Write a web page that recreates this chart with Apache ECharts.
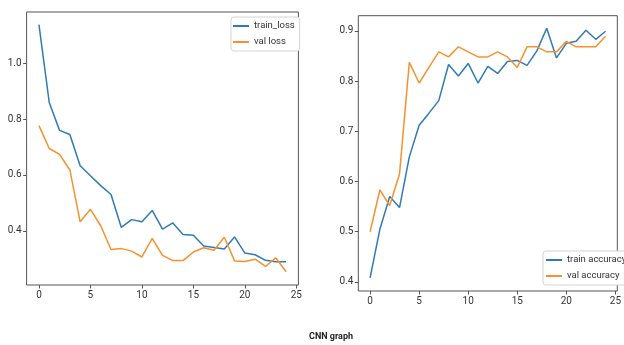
<!DOCTYPE html>
<html>
<head>
<meta charset="utf-8">
<script src="https://cdn.jsdelivr.net/npm/echarts@6/dist/echarts.min.js"></script>
<style>
  html, body { margin: 0; padding: 0; background: #fff; }
  #chart { width: 624px; height: 345px; }
</style>
</head>
<body>
<div id="chart"></div>
<script>
// epochs 0..24
const epochs = Array.from({ length: 25 }, (_, i) => i);

const trainLoss = [1.139, 0.86, 0.76, 0.745, 0.633, 0.597, 0.562, 0.53, 0.412, 0.44,
  0.432, 0.473, 0.406, 0.428, 0.387, 0.384, 0.345, 0.34, 0.335, 0.378,
  0.32, 0.314, 0.294, 0.289, 0.289];
const valLoss = [0.777, 0.695, 0.674, 0.618, 0.432, 0.477, 0.418, 0.333, 0.336, 0.327,
  0.306, 0.373, 0.312, 0.293, 0.293, 0.324, 0.339, 0.33, 0.377, 0.292,
  0.29, 0.298, 0.272, 0.303, 0.253];

const trainAcc = [0.408, 0.505, 0.57, 0.548, 0.649, 0.712, 0.736, 0.761, 0.833, 0.81,
  0.835, 0.796, 0.829, 0.815, 0.839, 0.841, 0.831, 0.86, 0.905, 0.846,
  0.875, 0.879, 0.901, 0.883, 0.899];
const valAcc = [0.50, 0.583, 0.552, 0.615, 0.837, 0.796, 0.827, 0.858, 0.848, 0.868,
  0.858, 0.848, 0.848, 0.858, 0.848, 0.827, 0.868, 0.868, 0.858, 0.858,
  0.879, 0.868, 0.868, 0.868, 0.889];

const xTicks = [0, 5, 10, 15, 20, 25];
const lossTicks = [0.4, 0.6, 0.8, 1.0];
const accTicks = [0.4, 0.5, 0.6, 0.7, 0.8, 0.9];

const BLUE = '#2f7bb6';
const ORANGE = '#f5922f';
const FONT = 'Roboto';
const AXIS_COLOR = '#555';

const pairs = (ys) => epochs.map((x, i) => [x, ys[i]]);

function xAxisFor(gridIndex) {
  return {
    type: 'value', gridIndex, min: -1.2, max: 25.2,
    splitLine: { show: false },
    axisLine: { show: false, onZero: false },
    axisTick: { show: true, length: 3.5, customValues: xTicks, lineStyle: { color: AXIS_COLOR } },
    axisLabel: { customValues: xTicks, color: '#333', fontSize: 10, fontFamily: FONT, margin: 5 },
  };
}

function yAxisFor(gridIndex, min, max, ticks) {
  return {
    type: 'value', gridIndex, min, max,
    splitLine: { show: false },
    axisLine: { show: false, onZero: false },
    axisTick: { show: true, length: 3.5, customValues: ticks, lineStyle: { color: AXIS_COLOR } },
    axisLabel: {
      customValues: ticks, color: '#333', fontSize: 10, fontFamily: FONT, margin: 5,
      formatter: (v) => v.toFixed(1),
    },
  };
}

function lineSeries(name, data, color, idx) {
  return {
    name, type: 'line', data, xAxisIndex: idx, yAxisIndex: idx,
    symbol: 'none', lineStyle: { width: 1.5, color }, itemStyle: { color },
    animation: false,
  };
}

const legendBase = {
  orient: 'vertical',
  backgroundColor: '#fff',
  borderColor: '#d4d4d4',
  borderWidth: 1,
  borderRadius: 3,
  icon: 'rect',
  itemWidth: 16,
  itemHeight: 2,
  itemGap: 6,
  textStyle: { fontSize: 9.5, fontFamily: FONT, color: '#333' },
};

const chart = echarts.init(document.getElementById('chart'), null, { renderer: 'canvas' });
chart.setOption({
  backgroundColor: '#fff',
  animation: false,
  title: {
    text: 'CNN graph', left: 304, top: 327,
    textStyle: { fontSize: 9, fontWeight: 'bold', fontFamily: FONT, color: '#222' },
  },
  grid: [
    { left: 26.6, top: 12, width: 271.8, height: 273, show: true, borderColor: AXIS_COLOR, borderWidth: 1 },
    { left: 358.3, top: 15.7, width: 272.4, height: 275.3, show: true, borderColor: AXIS_COLOR, borderWidth: 1 },
  ],
  xAxis: [xAxisFor(0), xAxisFor(1)],
  yAxis: [yAxisFor(0, 0.2055, 1.1845, lossTicks), yAxisFor(1, 0.382, 0.930, accTicks)],
  legend: [
    Object.assign({}, legendBase, { data: ['train_loss', 'val loss'], left: 231, top: 17, padding: [4, 5, 4, 2] }),
    Object.assign({}, legendBase, { data: ['train accuracy', 'val accuracy'], left: 543, top: 251, padding: [4, 6, 4, 3] }),
  ],
  series: [
    lineSeries('train_loss', pairs(trainLoss), BLUE, 0),
    lineSeries('val loss', pairs(valLoss), ORANGE, 0),
    lineSeries('train accuracy', pairs(trainAcc), BLUE, 1),
    lineSeries('val accuracy', pairs(valAcc), ORANGE, 1),
  ],
});
</script>
</body>
</html>
